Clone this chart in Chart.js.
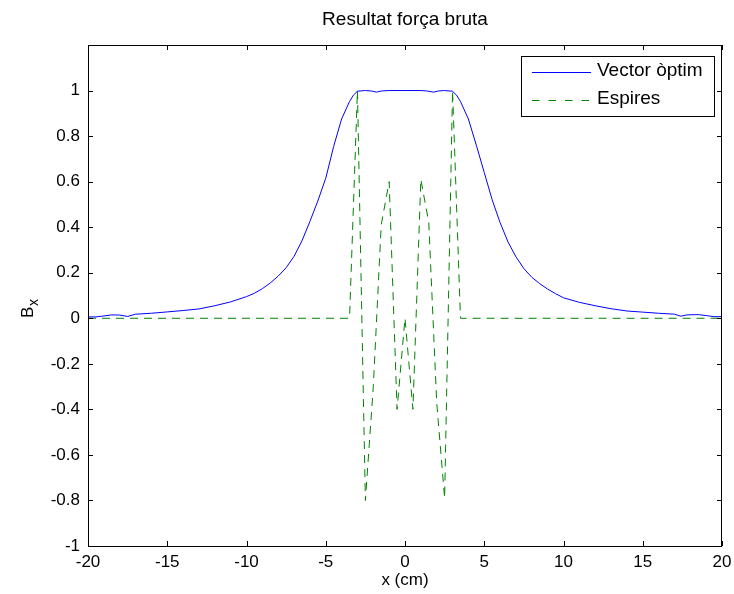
<!DOCTYPE html>
<html>
<head>
<meta charset="utf-8">
<script src="https://cdn.jsdelivr.net/npm/chart.js@4/dist/chart.umd.min.js"></script>
<style>
html,body{margin:0;padding:0;background:#fff;}
#wrap{width:734px;height:594px;}
</style>
</head>
<body>
<div id="wrap"><canvas id="c" width="734" height="594"></canvas></div>
<script>
// ---- data ----
const titleText = "Resultat força bruta";
const xTitle = "x (cm)";
const seriesNames = ["Vector òptim", "Espires"];

const vectorX = [-20,-19.5,-19,-18.5,-18,-17.5,-17,-16,-15,-14,-13,-12,-11,-10,-9.5,-9,-8.5,-8,-7.5,-7,-6.5,-6,-5.5,-5,-4.5,-4,-3.5,-3.25,-3,-2.5,-2.1,-1.8,-1.5,-1,0,1,1.4,1.8,2.1,2.5,3,3.25,3.5,4,4.5,5,5.5,6,6.5,7,7.5,8,8.5,9,9.5,10,11,12,13,14,15,16,17,17.4,17.8,18.5,19,19.5,20];
const vectorY = [0.006,0.006,0.01,0.015,0.014,0.008,0.018,0.022,0.028,0.034,0.041,0.055,0.072,0.095,0.11,0.13,0.155,0.185,0.222,0.272,0.34,0.425,0.515,0.615,0.755,0.875,0.952,0.98,0.997,1.0,0.998,0.993,0.998,1.0,1.0,1.0,0.998,0.993,0.998,1.0,0.997,0.98,0.952,0.875,0.76,0.64,0.52,0.42,0.335,0.27,0.218,0.18,0.152,0.128,0.108,0.09,0.07,0.055,0.042,0.032,0.027,0.022,0.018,0.009,0.015,0.016,0.012,0.007,0.007];

const espiresX = [-20,-3.5,-3,-2.5,-2,-1.5,-1,-0.5,0,0.5,1,1.5,2,2.5,3,3.5,20];
const espiresY = [0,0,1,-0.8,-0.3,0.41,0.6,-0.4,0,-0.4,0.61,0.42,-0.37,-0.79,1,0,0];

const xMin = -20, xMax = 20, xStep = 5;
const yMin = -1, yMax = 1.2, yStep = 0.2;

// ---- helpers ----
const toPts = (xs, ys) => xs.map((x, i) => ({x: x, y: ys[i]}));
const FONT = "'Liberation Sans', Arial, sans-serif";
const FS = 17;     // tick / axis label size
const FS_BIG = 19; // title & legend size

const framePlugin = {
  id: 'frame',
  afterDraw(chart) {
    const ctx = chart.ctx;
    const a = chart.chartArea;
    const xs = chart.scales.x, ys = chart.scales.y;
    ctx.save();
    ctx.strokeStyle = '#000';
    ctx.lineWidth = 1;
    ctx.strokeRect(Math.round(a.left) + 0.5, Math.round(a.top) + 0.5,
                   Math.round(a.right - a.left) - 1, Math.round(a.bottom - a.top));
    const tl = 5;
    ctx.beginPath();
    xs.ticks.forEach(t => {
      const px = Math.round(xs.getPixelForValue(t.value)) + 0.5;
      ctx.moveTo(px, a.bottom); ctx.lineTo(px, a.bottom - tl);
      ctx.moveTo(px, a.top); ctx.lineTo(px, a.top + tl);
    });
    ys.ticks.forEach(t => {
      const py = Math.round(ys.getPixelForValue(t.value)) + 0.5;
      ctx.moveTo(a.left, py); ctx.lineTo(a.left + tl, py);
      ctx.moveTo(a.right, py); ctx.lineTo(a.right - tl, py);
    });
    ctx.stroke();

    // title centred over the plot area
    ctx.fillStyle = '#000';
    ctx.font = FS_BIG + 'px ' + FONT;
    ctx.textAlign = 'center';
    ctx.textBaseline = 'middle';
    ctx.fillText(titleText, (a.left + a.right) / 2, 20);

    // legend box
    const lx = 521, ly = 56, lw = 193, lh = 60;
    ctx.fillStyle = '#fff';
    ctx.fillRect(lx, ly, lw, lh);
    ctx.strokeRect(lx + 0.5, ly + 0.5, lw, lh);
    const ds = chart.data.datasets;
    const rows = [72, 100];
    ds.forEach((d, i) => {
      ctx.beginPath();
      ctx.strokeStyle = d.borderColor;
      ctx.setLineDash(d.borderDash ? [7.5, 9] : []);
      ctx.moveTo(532, rows[i] + 0.5); ctx.lineTo(591, rows[i] + 0.5);
      ctx.stroke();
      ctx.setLineDash([]);
      ctx.fillStyle = '#000';
      ctx.font = FS_BIG + 'px ' + FONT;
      ctx.textAlign = 'left';
      ctx.textBaseline = 'middle';
      ctx.fillText(d.label, 597, rows[i] - 1);
    });

    // y axis title B_x
    ctx.save();
    ctx.translate(28, 312);
    ctx.rotate(-Math.PI / 2);
    ctx.fillStyle = '#000';
    ctx.textBaseline = 'middle';
    ctx.textAlign = 'left';
    ctx.font = FS + 'px ' + FONT;
    ctx.fillText('B', -6, 0);
    ctx.font = Math.round(FS * 0.8) + 'px ' + FONT;
    ctx.fillText('x', 6, 6);
    ctx.restore();
    ctx.restore();
  }
};

new Chart(document.getElementById('c'), {
  type: 'scatter',
  data: {
    datasets: [
      {
        label: seriesNames[0],
        data: toPts(vectorX, vectorY),
        showLine: true,
        borderColor: '#0000ff',
        borderWidth: 1,
        pointRadius: 0,
        tension: 0,
        fill: false
      },
      {
        label: seriesNames[1],
        data: toPts(espiresX, espiresY),
        showLine: true,
        borderColor: '#008000',
        borderWidth: 1,
        borderDash: [8, 6],
        pointRadius: 0,
        tension: 0,
        fill: false
      }
    ]
  },
  options: {
    responsive: false,
    animation: false,
    layout: {padding: {left: 0, right: 12, top: 45, bottom: 0}},
    plugins: {
      legend: {display: false},
      tooltip: {enabled: false},
      title: {display: false}
    },
    scales: {
      x: {
        type: 'linear',
        min: xMin, max: xMax,
        grid: {display: false, drawTicks: false},
        border: {display: false},
        ticks: {
          stepSize: xStep,
          color: '#000',
          padding: 6,
          font: {family: FONT, size: FS},
          maxRotation: 0,
          callback: v => String(v)
        },
        title: {
          display: true,
          text: xTitle,
          color: '#000',
          font: {family: FONT, size: FS},
          padding: {top: 0, bottom: 3}
        },
        afterFit: s => { s.height = 48; s.paddingLeft = 0; s.paddingRight = 0; }
      },
      y: {
        type: 'linear',
        min: yMin, max: yMax,
        grid: {display: false, drawTicks: false},
        border: {display: false},
        ticks: {
          stepSize: yStep,
          color: '#000',
          padding: 8,
          font: {family: FONT, size: FS},
          callback: v => (v > 1.1 ? '' : String(+v.toFixed(1)))
        },
        afterFit: s => { s.width = 88; s.paddingTop = 0; s.paddingBottom = 0; }
      }
    }
  },
  plugins: [framePlugin]
});
</script>
</body>
</html>
